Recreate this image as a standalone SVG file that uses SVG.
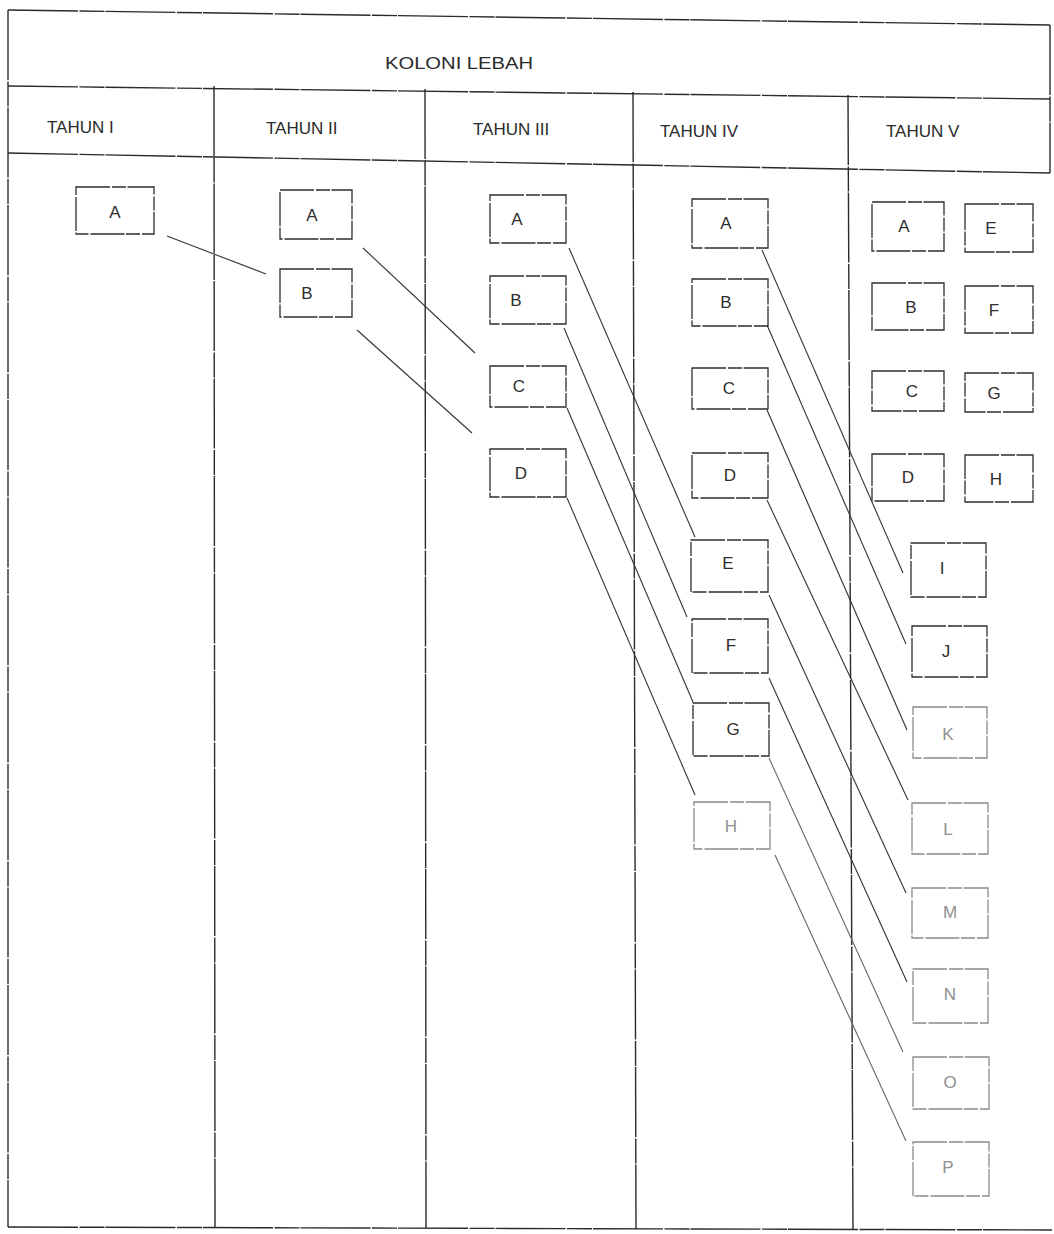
<svg xmlns="http://www.w3.org/2000/svg" width="1054" height="1234" viewBox="0 0 1054 1234">
<style>
.frame{stroke:#2a2a2a;stroke-width:1.4;fill:none;stroke-dasharray:70 1.5 25 1}
.box{fill:none;stroke:#2e2e2e;stroke-width:1.3;stroke-dasharray:34 2 14 1.5}
.faint .box{stroke:#8a8a8a}
.lbl{font-family:"Liberation Sans",Arial,sans-serif;font-size:17px;fill:#2e2e2e;text-anchor:middle}
.faint .lbl{fill:#8f8f8f}
.hdr{font-family:"Liberation Sans",Arial,sans-serif;font-size:17px;fill:#2a2a2a}
.con{stroke:#333;stroke-width:1.1;fill:none}
.con.faint{stroke:#666}
</style>
<rect x="0" y="0" width="1054" height="1234" fill="#ffffff"/>
<g id="frame">
<line class="frame" x1="8" y1="10" x2="1050" y2="25"/>
<line class="frame" x1="8" y1="86" x2="1050" y2="99"/>
<line class="frame" x1="8" y1="153" x2="1050" y2="173"/>
<line class="frame" x1="8" y1="1227" x2="1052" y2="1230"/>
<line class="frame" x1="8" y1="10" x2="8" y2="1227"/>
<line class="frame" x1="1050" y1="25" x2="1050" y2="173"/>
<line class="frame" x1="214" y1="86" x2="215" y2="1228"/>
<line class="frame" x1="425" y1="89" x2="426" y2="1228"/>
<line class="frame" x1="633" y1="92" x2="636" y2="1229"/>
<line class="frame" x1="848" y1="95" x2="853" y2="1230"/>
</g>
<g id="headers">
<text class="hdr" x="385" y="69" textLength="148" lengthAdjust="spacingAndGlyphs" font-size="19">KOLONI LEBAH</text>
<text class="hdr" x="47" y="133">TAHUN I</text>
<text class="hdr" x="266" y="134">TAHUN II</text>
<text class="hdr" x="473" y="135">TAHUN III</text>
<text class="hdr" x="660" y="137">TAHUN IV</text>
<text class="hdr" x="886" y="137">TAHUN V</text>
</g>
<g id="connectors">
<line class="con" x1="167" y1="236" x2="266" y2="274"/>
<line class="con" x1="363" y1="248" x2="475" y2="353"/>
<line class="con" x1="357" y1="330" x2="472" y2="433"/>
<line class="con" x1="569" y1="248" x2="695" y2="537"/>
<line class="con" x1="564" y1="328" x2="687" y2="617"/>
<line class="con" x1="567" y1="408" x2="693" y2="702"/>
<line class="con" x1="567" y1="498" x2="695" y2="795"/>
<line class="con" x1="762" y1="250" x2="903" y2="573"/>
<line class="con" x1="767" y1="325" x2="906" y2="644"/>
<line class="con" x1="767" y1="410" x2="907" y2="730"/>
<line class="con" x1="767" y1="500" x2="908" y2="800"/>
<line class="con" x1="769" y1="595" x2="906" y2="893"/>
<line class="con" x1="769" y1="678" x2="907" y2="982"/>
<line class="con faint" x1="769" y1="758" x2="903" y2="1052"/>
<line class="con faint" x1="775" y1="855" x2="906" y2="1141"/>
</g>
<g id="n1A" class="node"><rect class="box" x="76" y="187" width="78" height="47"/><text class="lbl" x="115" y="218">A</text></g>
<g id="n2A" class="node"><rect class="box" x="280" y="190" width="72" height="49"/><text class="lbl" x="312" y="221">A</text></g>
<g id="n2B" class="node"><rect class="box" x="280" y="269" width="72" height="48"/><text class="lbl" x="307" y="299">B</text></g>
<g id="n3A" class="node"><rect class="box" x="490" y="195" width="76" height="48"/><text class="lbl" x="517" y="225">A</text></g>
<g id="n3B" class="node"><rect class="box" x="490" y="276" width="76" height="48"/><text class="lbl" x="516" y="306">B</text></g>
<g id="n3C" class="node"><rect class="box" x="490" y="366" width="76" height="41"/><text class="lbl" x="519" y="392">C</text></g>
<g id="n3D" class="node"><rect class="box" x="490" y="449" width="76" height="48"/><text class="lbl" x="521" y="479">D</text></g>
<g id="n4A" class="node"><rect class="box" x="692" y="199" width="76" height="49"/><text class="lbl" x="726" y="229">A</text></g>
<g id="n4B" class="node"><rect class="box" x="692" y="279" width="76" height="47"/><text class="lbl" x="726" y="308">B</text></g>
<g id="n4C" class="node"><rect class="box" x="692" y="368" width="76" height="41"/><text class="lbl" x="729" y="394">C</text></g>
<g id="n4D" class="node"><rect class="box" x="692" y="453" width="76" height="45"/><text class="lbl" x="730" y="481">D</text></g>
<g id="n4E" class="node"><rect class="box" x="691" y="540" width="77" height="52"/><text class="lbl" x="728" y="569">E</text></g>
<g id="n4F" class="node"><rect class="box" x="692" y="619" width="76" height="54"/><text class="lbl" x="731" y="651">F</text></g>
<g id="n4G" class="node"><rect class="box" x="693" y="703" width="76" height="53"/><text class="lbl" x="733" y="735">G</text></g>
<g id="n4H" class="node faint"><rect class="box" x="694" y="802" width="76" height="47"/><text class="lbl" x="731" y="832">H</text></g>
<g id="n5A" class="node"><rect class="box" x="872" y="202" width="72" height="49"/><text class="lbl" x="904" y="232">A</text></g>
<g id="n5E" class="node"><rect class="box" x="965" y="204" width="68" height="48"/><text class="lbl" x="991" y="234">E</text></g>
<g id="n5B" class="node"><rect class="box" x="872" y="283" width="72" height="47"/><text class="lbl" x="911" y="313">B</text></g>
<g id="n5F" class="node"><rect class="box" x="965" y="286" width="68" height="47"/><text class="lbl" x="994" y="316">F</text></g>
<g id="n5C" class="node"><rect class="box" x="872" y="371" width="72" height="40"/><text class="lbl" x="912" y="397">C</text></g>
<g id="n5G" class="node"><rect class="box" x="965" y="373" width="68" height="39"/><text class="lbl" x="994" y="399">G</text></g>
<g id="n5D" class="node"><rect class="box" x="872" y="454" width="72" height="47"/><text class="lbl" x="908" y="483">D</text></g>
<g id="n5H" class="node"><rect class="box" x="965" y="455" width="68" height="47"/><text class="lbl" x="996" y="485">H</text></g>
<g id="n5I" class="node"><rect class="box" x="911" y="543" width="75" height="54"/><text class="lbl" x="942" y="574">I</text></g>
<g id="n5J" class="node"><rect class="box" x="912" y="626" width="75" height="51"/><text class="lbl" x="946" y="657">J</text></g>
<g id="n5K" class="node faint"><rect class="box" x="913" y="707" width="74" height="51"/><text class="lbl" x="948" y="740">K</text></g>
<g id="n5L" class="node faint"><rect class="box" x="912" y="803" width="76" height="51"/><text class="lbl" x="948" y="835">L</text></g>
<g id="n5M" class="node faint"><rect class="box" x="912" y="888" width="76" height="50"/><text class="lbl" x="950" y="918">M</text></g>
<g id="n5N" class="node faint"><rect class="box" x="913" y="969" width="75" height="54"/><text class="lbl" x="950" y="1000">N</text></g>
<g id="n5O" class="node faint"><rect class="box" x="913" y="1057" width="76" height="52"/><text class="lbl" x="950" y="1088">O</text></g>
<g id="n5P" class="node faint"><rect class="box" x="913" y="1142" width="76" height="54"/><text class="lbl" x="948" y="1173">P</text></g>
</svg>
